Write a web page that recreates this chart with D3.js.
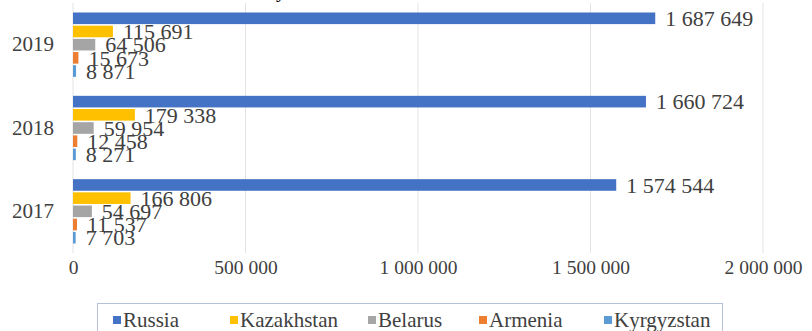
<!DOCTYPE html>
<html>
<head>
<meta charset="utf-8">
<script src="https://cdn.jsdelivr.net/npm/d3@7"></script>
<style>
body{margin:0;background:#fff;}
svg{display:block;font-family:"Liberation Serif","Times New Roman",serif;}
</style>
</head>
<body>
<svg id="svg" width="812" height="331"></svg>
<script>
const years=["2019","2018","2017"];
const countries=["Russia","Kazakhstan","Belarus","Armenia","Kyrgyzstan"];
const colors=["#4472c4","#ffc000","#a5a5a5","#ed7d31","#5b9bd5"];
// values per country, in the order of years above
const russia=[1687649,1660724,1574544];
const kazakhstan=[115691,179338,166806];
const belarus=[64506,59954,54697];
const armenia=[15673,12458,11537];
const kyrgyzstan=[8871,8271,7703];
const xTicks=[0,500000,1000000,1500000,2000000];

const series=[russia,kazakhstan,belarus,armenia,kyrgyzstan];
const plotLeft=73,plotRight=763,plotTop=3,plotBottom=253;
const textColor="#404040";
const serif='"Liberation Serif","Times New Roman",serif';

var svg=d3.select("#svg");

var x=d3.scaleLinear().domain([0,2000000]).range([plotLeft,plotRight]);
var y0=d3.scaleBand().domain(years).range([plotTop,plotBottom]);
var y1=d3.scaleBand().domain(countries).range([0,y0.bandwidth()]).paddingOuter(0.72).paddingInner(0.12);
var color=d3.scaleOrdinal().domain(countries).range(colors);
const fmt=d=>d3.format(",")(d).replace(/,/g," ");

// cut-off title descender at the very top
svg.append("text").attr("x",276).attr("y",-3).attr("font-size",20).attr("fill","#000").text("y");

// gridlines
svg.append("g").selectAll("line")
    .data(xTicks.slice(1)).enter().append("line")
        .attr("x1",d=>x(d)).attr("x2",d=>x(d))
        .attr("y1",plotTop).attr("y2",plotBottom)
        .attr("stroke","#e3e3e3").attr("stroke-width",1)
svg.append("line").attr("x1",plotLeft).attr("x2",plotLeft).attr("y1",plotTop).attr("y2",plotBottom)
        .attr("stroke","#e3e3e3")

// bars
var rows=[];
years.forEach((yr,i)=>countries.forEach((c,j)=>rows.push({year:yr,country:c,value:series[j][i]})));

var groups=svg.append("g");
groups.selectAll("rect")
    .data(rows).enter().append("rect")
        .attr("x",x(0))
        .attr("y",d=>y0(d.year)+y1(d.country))
        .attr("width",d=>x(d.value)-x(0))
        .attr("height",y1.bandwidth())
        .attr("fill",d=>color(d.country))

groups.selectAll("text")
    .data(rows).enter().append("text")
        .attr("x",d=>x(d.value)+10)
        .attr("y",d=>y0(d.year)+y1(d.country)+y1.bandwidth()/2)
        .attr("dy","0.35em")
        .attr("font-size",22)
        .attr("fill",textColor)
        .text(d=>fmt(d.value))

// axes
var yAxis=svg.append("g").attr("transform","translate("+plotLeft+",0)")
    .call(d3.axisLeft(y0).tickSize(0).tickPadding(19));
yAxis.attr("font-family",serif).attr("font-size",21);
yAxis.select(".domain").remove();
yAxis.selectAll("text").attr("fill",textColor);

var xAxis=svg.append("g").attr("transform","translate(0,"+plotBottom+")")
    .call(d3.axisBottom(x).tickValues(xTicks).tickFormat(fmt).tickSize(0).tickPadding(7));
xAxis.attr("font-family",serif).attr("font-size",19.5);
xAxis.select(".domain").remove();
xAxis.selectAll("text").attr("fill",textColor);

// legend
var legend=svg.append("g");
legend.append("rect").attr("x",97.5).attr("y",303.5).attr("width",625).attr("height",40)
    .attr("fill","#fff").attr("stroke","#b4c2d6");
const legendX=[113,230,368,479,604];
var item=legend.selectAll("g.item").data(countries).enter().append("g")
    .attr("class","item")
    .attr("transform",(d,i)=>"translate("+legendX[i]+",320)");
item.append("rect").attr("x",0).attr("y",-4).attr("width",8).attr("height",8).attr("fill",d=>color(d));
item.append("text").attr("x",10).attr("dy","0.35em").attr("font-size",21).attr("fill",textColor).text(d=>d);
</script>
</body>
</html>
